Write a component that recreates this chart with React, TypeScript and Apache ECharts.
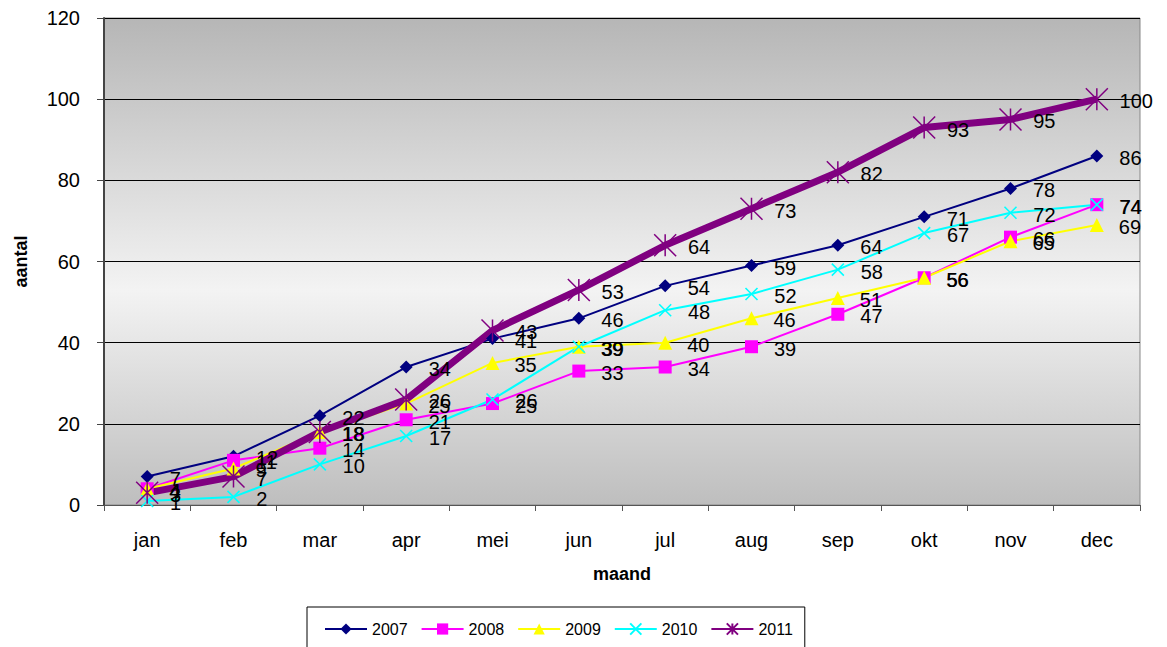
import React, { useEffect, useRef } from "react";
import * as echarts from "echarts";

const months = ["jan", "feb", "mar", "apr", "mei", "jun", "jul", "aug", "sep", "okt", "nov", "dec"];
const s2007 = [7, 12, 22, 34, 41, 46, 54, 59, 64, 71, 78, 86];
const s2008 = [4, 11, 14, 21, 25, 33, 34, 39, 47, 56, 66, 74];
const s2009 = [4, 9, 18, 25, 35, 39, 40, 46, 51, 56, 65, 69];
const s2010 = [1, 2, 10, 17, 26, 39, 48, 52, 58, 67, 72, 74];
const s2011 = [3, 7, 18, 26, 43, 53, 64, 73, 82, 93, 95, 100];
const yTicks = { min: 0, max: 120, interval: 20 };

const FONT = "Liberation Sans, Arial, sans-serif";
const X_PATH = "path://M0 0L10 10M10 0L0 10";
const STAR_PATH = "path://M0 0L10 10M10 0L0 10M5 0L5 10";

export default function App() {
  const ref = useRef<HTMLDivElement>(null);
  useEffect(() => {
    if (!ref.current) return;
    const chart = echarts.init(ref.current, null, { renderer: "svg" });
    const label = (distance: number) => ({
      show: true,
      position: "right" as const,
      distance,
      offset: [0, 2],
      color: "#000",
      fontSize: 20,
      fontFamily: FONT,
    });
    const mk = (name: string, data: number[], color: string, width: number, symbol: string, size: number, dist: number, extra: any = {}) => ({
      name,
      type: "line",
      data,
      symbol,
      symbolSize: size,
      lineStyle: { color, width },
      itemStyle: { color, ...extra },
      label: label(dist),
      emphasis: { disabled: true },
      z: 2,
    });
    chart.setOption({
      animation: false,
      textStyle: { fontFamily: FONT },
      grid: {
        left: 104,
        top: 18,
        right: 27,
        bottom: 142,
        show: true,
        borderColor: "#888",
        borderWidth: 1,
        backgroundColor: new echarts.graphic.LinearGradient(0, 0, 0, 1, [
          { offset: 0, color: "#b6b6b6" },
          { offset: 0.56, color: "#f3f3f3" },
          { offset: 1, color: "#bebebe" },
        ]),
      },
      legend: {
        left: 307,
        top: 607,
        padding: [14, 12, 16, 17],
        itemGap: 13,
        itemWidth: 42,
        itemHeight: 14,
        borderColor: "#000",
        borderWidth: 1,
        backgroundColor: "#fff",
        textStyle: { fontSize: 16, color: "#000", fontFamily: FONT },
        data: ["2007", "2008", "2009", "2010", "2011"],
      },
      xAxis: {
        type: "category",
        data: months,
        boundaryGap: true,
        name: "maand",
        nameLocation: "middle",
        nameGap: 60,
        nameTextStyle: { fontSize: 18, fontWeight: "bold", color: "#000", fontFamily: FONT },
        axisLine: { lineStyle: { color: "#555", width: 1 } },
        axisTick: { show: true, inside: false, length: 6, alignWithLabel: false, lineStyle: { color: "#555" } },
        axisLabel: { fontSize: 20, color: "#000", margin: 25, fontFamily: FONT },
        splitLine: { show: false },
      },
      yAxis: {
        type: "value",
        min: yTicks.min,
        max: yTicks.max,
        interval: yTicks.interval,
        name: "aantal",
        nameLocation: "middle",
        nameGap: 74,
        nameRotate: 90,
        nameTextStyle: { fontSize: 18, fontWeight: "bold", color: "#000", fontFamily: FONT },
        axisLine: { show: true, lineStyle: { color: "#444", width: 2 } },
        axisTick: { show: true, inside: false, length: 7, lineStyle: { color: "#444" } },
        axisLabel: { fontSize: 20, color: "#000", margin: 24, fontFamily: FONT },
        splitLine: { show: true, lineStyle: { color: "#000", width: 1 } },
      },
      series: [
        mk("2007", s2007, "#000080", 2, "diamond", 13, 16),
        mk("2008", s2008, "#ff00ff", 2, "rect", 13, 16),
        mk("2009", s2009, "#ffff00", 2, "triangle", 14, 15),
        mk("2010", s2010, "#00ffff", 2, X_PATH, 12, 16, { borderColor: "#00ffff", borderWidth: 1.6 }),
        mk("2011", s2011, "#800080", 7, STAR_PATH, 22, 11, { borderColor: "#800080", borderWidth: 1.5 }),
      ],
    });
    return () => chart.dispose();
  }, []);
  return <div ref={ref} style={{ position: "absolute", left: 0, top: 0, width: 1167, height: 647 }} />;
}
